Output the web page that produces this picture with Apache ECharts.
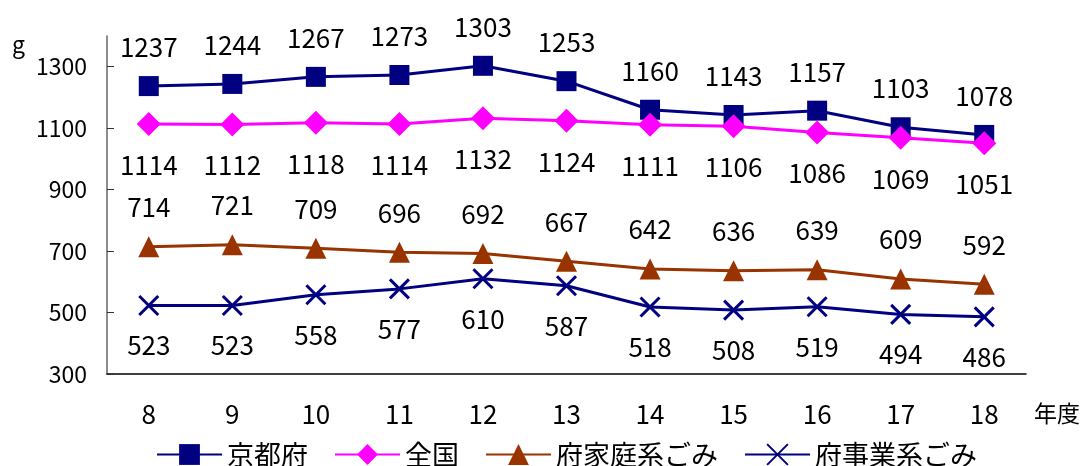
<!DOCTYPE html>
<html>
<head>
<meta charset="utf-8">
<script src="https://cdn.jsdelivr.net/npm/echarts@6/dist/echarts.min.js"></script>
<style>
  html, body { margin: 0; padding: 0; background: #fff; }
  #chart { width: 1083px; height: 466px; }
</style>
</head>
<body>
<div id="chart"></div>
<script>
// Fiscal years (平成)
const years = ['8', '9', '10', '11', '12', '13', '14', '15', '16', '17', '18'];

// Per-person daily waste (g)
const kyotoFu = [1237, 1244, 1267, 1273, 1303, 1253, 1160, 1143, 1157, 1103, 1078];
const zenkoku = [1114, 1112, 1118, 1114, 1132, 1124, 1111, 1106, 1086, 1069, 1051];
const kateiKei = [714, 721, 709, 696, 692, 667, 642, 636, 639, 609, 592];
const jigyouKei = [523, 523, 558, 577, 610, 587, 518, 508, 519, 494, 486];

// Labelled y ticks
const yTicks = [300, 500, 700, 900, 1100, 1300];

const FONT = '"Noto Sans CJK JP", "Noto Sans", sans-serif';
const crossPath = 'path://M0,0L10,10M10,0L0,10';

function makeSeries(name, data, color, symbol, size, labelPos) {
  return {
    name: name,
    type: 'line',
    data: data,
    symbol: symbol,
    symbolSize: size,
    lineStyle: { color: color, width: 3 },
    itemStyle: symbol === crossPath
      ? { color: color, borderColor: color, borderWidth: 3 }
      : { color: color },
    label: {
      show: true,
      position: labelPos,
      distance: 16,
      color: '#000',
      fontSize: 26,
      fontFamily: FONT
    },
    emphasis: { disabled: true },
    animation: false
  };
}

const chart = echarts.init(document.getElementById('chart'));
chart.setOption({
  backgroundColor: '#fff',
  textStyle: { fontFamily: FONT },
  grid: { left: 107, right: 55, top: 36, bottom: 92 },
  legend: {
    left: 151,
    top: 436,
    itemWidth: 65,
    itemHeight: 26,
    itemGap: 26,
    textStyle: { fontSize: 27, color: '#000', fontFamily: FONT }
  },
  xAxis: {
    type: 'category',
    data: years,
    boundaryGap: true,
    name: '年度',
    nameLocation: 'end',
    nameGap: 8,
    nameTextStyle: { fontSize: 23, color: '#000', fontFamily: FONT, verticalAlign: 'top', padding: [28, 0, 0, 0] },
    axisLine: { lineStyle: { color: '#000', width: 1.5 } },
    axisTick: { inside: true, length: 7, lineStyle: { color: '#444' } },
    axisLabel: { fontSize: 26, color: '#000', fontFamily: FONT, margin: 27 }
  },
  yAxis: {
    type: 'value',
    min: 300,
    max: 1400,
    name: 'g',
    nameLocation: 'end',
    nameGap: -8,
    nameTextStyle: { fontSize: 23, color: '#000', fontFamily: FONT, align: 'right', verticalAlign: 'middle', padding: [0, 82, 0, 0] },
    splitLine: { show: false },
    axisLine: { show: true, lineStyle: { color: '#666', width: 1.5 } },
    axisTick: { show: true, inside: true, length: 7, customValues: yTicks, lineStyle: { color: '#333' } },
    axisLabel: { fontSize: 23, color: '#000', fontFamily: FONT, margin: 20, customValues: yTicks, formatter: v => String(v) }
  },
  series: [
    makeSeries('京都府', kyotoFu, '#000080', 'rect', 20, 'top'),
    makeSeries('全国', zenkoku, '#FF00FF', 'diamond', 24, 'bottom'),
    makeSeries('府家庭系ごみ', kateiKei, '#993300', 'triangle', 21, 'top'),
    makeSeries('府事業系ごみ', jigyouKei, '#000080', crossPath, 19, 'bottom')
  ]
});
</script>
</body>
</html>
